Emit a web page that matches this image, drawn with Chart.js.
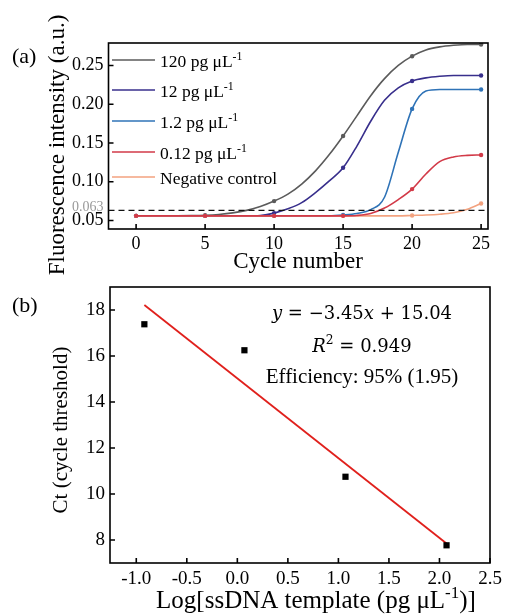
<!DOCTYPE html>
<html>
<head>
<meta charset="utf-8">
<script src="https://cdn.jsdelivr.net/npm/chart.js@4.4.0/dist/chart.umd.min.js"></script>
<style>
  html, body { margin: 0; padding: 0; background: #fff; }
  #wrap { position: relative; width: 505px; height: 615px; }
  canvas { position: absolute; left: 0; }
  #chartA { top: 0; }
  #chartB { top: 280px; }
</style>
</head>
<body>
<div id="wrap">
  <canvas id="chartA" width="505" height="280"></canvas>
  <canvas id="chartB" width="505" height="335"></canvas>
</div>
<script>
// ---- (a) amplification curves ----
var cycles = [0, 1, 2, 3, 4, 5, 6, 7, 8, 9, 10, 11, 12, 13, 14, 15, 16, 17, 18, 19, 20, 21, 22, 23, 24, 25];
var fluor120 = [0.056, 0.056, 0.056, 0.056, 0.0562, 0.0567, 0.0578, 0.0598, 0.063, 0.068, 0.075, 0.084, 0.097,
                0.114, 0.135, 0.159, 0.185, 0.211, 0.233, 0.250, 0.262, 0.270, 0.274, 0.276, 0.277, 0.277];
var fluor12 = [0.056, 0.056, 0.056, 0.056, 0.056, 0.056, 0.056, 0.056, 0.056, 0.0565, 0.0595, 0.065, 0.073,
               0.086, 0.101, 0.118, 0.146, 0.178, 0.205, 0.221, 0.230, 0.234, 0.236, 0.237, 0.237, 0.237];
var fluor1p2 = [0.056, 0.056, 0.056, 0.056, 0.056, 0.056, 0.056, 0.056, 0.056, 0.056, 0.056, 0.056, 0.056,
                0.056, 0.056, 0.057, 0.059, 0.064, 0.080, 0.138, 0.194, 0.217, 0.219, 0.219, 0.219, 0.219];
var fluor0p12 = [0.056, 0.056, 0.056, 0.056, 0.056, 0.056, 0.056, 0.056, 0.056, 0.056, 0.056, 0.056, 0.056,
                 0.056, 0.056, 0.056, 0.0565, 0.059, 0.066, 0.077, 0.0905, 0.110, 0.126, 0.132, 0.134, 0.1345];
var fluorNeg = [0.056, 0.056, 0.056, 0.056, 0.056, 0.056, 0.056, 0.056, 0.056, 0.056, 0.056, 0.056, 0.056,
                0.056, 0.056, 0.056, 0.056, 0.056, 0.056, 0.056, 0.0565, 0.057, 0.058, 0.060, 0.0645, 0.072];
var seriesLabels = ['120 pg μL^{-1}', '12 pg μL^{-1}', '1.2 pg μL^{-1}', '0.12 pg μL^{-1}', 'Negative control'];
var xTicksA = [0, 5, 10, 15, 20, 25];
var yTicksA = [0.05, 0.10, 0.15, 0.20, 0.25];
var threshold = 0.063;

// ---- (b) standard curve ----
var logTemplate = [-0.92, 0.07, 1.07, 2.07];
var ctValues = [17.38, 16.25, 10.75, 7.77];
var fitX = [-0.92, 2.07];
var fitY = [18.22, 7.85];
var xTicksB = [-1.0, -0.5, 0.0, 0.5, 1.0, 1.5, 2.0, 2.5];
var yTicksB = [8, 10, 12, 14, 16, 18];
var noteLines = ['*y* = −3.45*x* + 15.04', '*R*^{2} = 0.949', 'Efficiency: 95% (1.95)'];

var seriesData = [fluor120, fluor12, fluor1p2, fluor0p12, fluorNeg];
var seriesColors = ['#5b5b5b', '#382f8c', '#2f73b7', '#d23a48', '#f3a27f'];
var SERIF = '"Liberation Serif", "Times New Roman", serif';
var MATH = '"DejaVu Serif", serif';

// split 'text ^{sup} *italic*' into parts
function parseRich(s) {
    var parts = [];
    var re = /\^\{([^}]*)\}|\*([^*]*)\*|([^^*]+)/g;
    var m;
    while ((m = re.exec(s))) {
        if (m[1] !== undefined) parts.push({t: m[1], sup: true});
        else if (m[2] !== undefined) parts.push({t: m[2], italic: true});
        else parts.push({t: m[3]});
    }
    return parts;
}

function drawRich(ctx, s, x, y, size, family, align) {
    var parts = parseRich(s);
    var fontOf = function(p) {
        return (p.italic ? 'italic ' : '') + (p.sup ? size * 0.68 : size) + 'px ' + family;
    };
    var w = 0;
    parts.forEach(function(p) { ctx.font = fontOf(p); p.w = ctx.measureText(p.t).width; w += p.w; });
    var cx = align === 'center' ? x - w / 2 : x;
    ctx.textAlign = 'left';
    ctx.textBaseline = 'alphabetic';
    parts.forEach(function(p) {
        ctx.font = fontOf(p);
        ctx.fillText(p.t, cx, p.sup ? y - size * 0.42 : y);
        cx += p.w;
    });
}

// box around plot area + inward ticks
var framePlugin = {
    id: 'frame',
    afterDatasetsDraw: function(chart, args, opts) {
        var ctx = chart.ctx, a = chart.chartArea;
        ctx.save();
        ctx.strokeStyle = '#000';
        ctx.lineWidth = 1.6;
        ctx.strokeRect(a.left, a.top, a.right - a.left, a.bottom - a.top);
        ctx.beginPath();
        opts.xTicks.forEach(function(v) {
            var px = chart.scales.x.getPixelForValue(v);
            ctx.moveTo(px, a.bottom); ctx.lineTo(px, a.bottom - 5);
        });
        opts.yTicks.forEach(function(v) {
            var py = chart.scales.y.getPixelForValue(v);
            ctx.moveTo(a.left, py); ctx.lineTo(a.left + 5, py);
        });
        ctx.stroke();
        ctx.restore();
    }
};

// dashed threshold line with its grey label
var thresholdPlugin = {
    id: 'threshold',
    afterDatasetsDraw: function(chart, args, opts) {
        if (!opts.value) return;
        var ctx = chart.ctx, a = chart.chartArea;
        var py = chart.scales.y.getPixelForValue(opts.value);
        ctx.save();
        ctx.strokeStyle = '#111';
        ctx.lineWidth = 1.4;
        ctx.setLineDash([6, 4]);
        ctx.beginPath();
        ctx.moveTo(a.left, py); ctx.lineTo(a.right, py);
        ctx.stroke();
        ctx.fillStyle = '#9a9a9a';
        ctx.font = '14px ' + SERIF;
        ctx.textAlign = 'right';
        ctx.textBaseline = 'middle';
        ctx.fillText(String(opts.value), a.left - 5, py - 3);
        ctx.restore();
    }
};

// legend inside the plot, drawn from the datasets
var legendPlugin = {
    id: 'inlegend',
    afterDraw: function(chart, args, opts) {
        if (!opts.rows) return;
        var ctx = chart.ctx;
        ctx.save();
        chart.data.datasets.forEach(function(ds, i) {
            var y = opts.rows[i];
            ctx.strokeStyle = ds.borderColor;
            ctx.lineWidth = 1.6;
            ctx.beginPath();
            ctx.moveTo(112, y); ctx.lineTo(155, y);
            ctx.stroke();
            ctx.fillStyle = '#000';
            drawRich(ctx, ds.label, 160, y + 7, 17.5, SERIF, 'left');
        });
        ctx.restore();
    }
};

// panel letters, axis titles, notes
var textPlugin = {
    id: 'texts',
    afterDraw: function(chart, args, opts) {
        var ctx = chart.ctx;
        ctx.save();
        ctx.fillStyle = '#000';
        (opts.items || []).forEach(function(it) {
            if (it.rotate) {
                ctx.save();
                ctx.translate(it.x, it.y);
                ctx.rotate(-Math.PI / 2);
                drawRich(ctx, it.text, 0, 0, it.size, it.family || SERIF, 'center');
                ctx.restore();
            } else {
                drawRich(ctx, it.text, it.x, it.y, it.size, it.family || SERIF, it.align || 'left');
            }
        });
        ctx.restore();
    }
};

function fixedScale(w, h) {
    return function(s) {
        if (w) s.width = w;
        if (h) s.height = h;
        s.paddingTop = s.paddingBottom = s.paddingLeft = s.paddingRight = 0;
    };
}
function setTicks(list) {
    return function(s) { s.ticks = list.map(function(v) { return {value: v}; }); };
}

// ---------- chart (a) ----------
new Chart(document.getElementById('chartA'), {
    type: 'line',
    data: {
        datasets: seriesData.map(function(vals, i) {
            return {
                label: seriesLabels[i],
                data: cycles.map(function(c, j) { return {x: c, y: vals[j]}; }),
                borderColor: seriesColors[i],
                backgroundColor: seriesColors[i],
                borderWidth: 1.6,
                cubicInterpolationMode: 'monotone',
                pointRadius: function(ctx) { return cycles[ctx.dataIndex] % 5 === 0 ? 2.2 : 0; },
                pointBorderWidth: 0,
                order: [4, 3, 2, 0, 1][i]
            };
        })
    },
    options: {
        responsive: false,
        animation: false,
        layout: {padding: {top: 43, right: 17, left: 0, bottom: 0}},
        scales: {
            x: {
                type: 'linear', min: -2, max: 25.5,
                afterFit: fixedScale(null, 51),
                afterBuildTicks: setTicks(xTicksA),
                grid: {display: false, drawTicks: false}, border: {display: false},
                ticks: {color: '#000', font: {family: SERIF, size: 18}, padding: 4, maxRotation: 0}
            },
            y: {
                type: 'linear', min: 0.039, max: 0.279,
                afterFit: fixedScale(108.5, null),
                afterBuildTicks: setTicks(yTicksA),
                grid: {display: false, drawTicks: false}, border: {display: false},
                ticks: {
                    color: '#000', font: {family: SERIF, size: 18}, padding: 5, autoSkip: false,
                    callback: function(v) { return v.toFixed(2); }
                }
            }
        },
        plugins: {
            legend: {display: false},
            tooltip: {enabled: false},
            frame: {xTicks: xTicksA, yTicks: yTicksA},
            threshold: {value: threshold},
            inlegend: {rows: [60, 90, 121, 152, 177]},
            texts: {items: [
                {text: '(a)', x: 12, y: 63, size: 22},
                {text: 'Fluorescence intensity (a.u.)', x: 64, y: 145, size: 23, rotate: true},
                {text: 'Cycle number', x: 298, y: 268, size: 23, align: 'center'}
            ]}
        }
    },
    plugins: [framePlugin, thresholdPlugin, legendPlugin, textPlugin]
});

// ---------- chart (b) ----------
new Chart(document.getElementById('chartB'), {
    type: 'scatter',
    data: {
        datasets: [{
            label: 'Ct',
            data: logTemplate.map(function(x, i) { return {x: x, y: ctValues[i]}; }),
            pointStyle: 'rect',
            pointRadius: 4.4,
            backgroundColor: '#000',
            borderColor: '#000',
            borderWidth: 0,
            order: 0
        }, {
            label: 'Fit',
            type: 'line',
            data: fitX.map(function(x, i) { return {x: x, y: fitY[i]}; }),
            borderColor: '#e0201c',
            borderWidth: 1.8,
            pointRadius: 0,
            order: 1
        }]
    },
    options: {
        responsive: false,
        animation: false,
        layout: {padding: {top: 7, right: 15, left: 0, bottom: 0}},
        scales: {
            x: {
                type: 'linear', min: -1.26, max: 2.5,
                afterFit: fixedScale(null, 52),
                afterBuildTicks: setTicks(xTicksB),
                grid: {display: false, drawTicks: false}, border: {display: false},
                ticks: {
                    color: '#000', font: {family: SERIF, size: 19}, padding: 5, maxRotation: 0, autoSkip: false,
                    callback: function(v) { return v.toFixed(1); }
                }
            },
            y: {
                type: 'linear', min: 7, max: 19,
                afterFit: fixedScale(110, null),
                afterBuildTicks: setTicks(yTicksB),
                grid: {display: false, drawTicks: false}, border: {display: false},
                ticks: {color: '#000', font: {family: SERIF, size: 19}, padding: 5, autoSkip: false}
            }
        },
        plugins: {
            legend: {display: false},
            tooltip: {enabled: false},
            frame: {xTicks: xTicksB, yTicks: yTicksB},
            texts: {items: [
                {text: '(b)', x: 12, y: 32, size: 22},
                {text: 'Ct (cycle threshold)', x: 67, y: 150, size: 21, rotate: true},
                {text: 'Log[ssDNA template (pg μL^{-1})]', x: 316, y: 328, size: 25, align: 'center'},
                {text: noteLines[0], x: 362, y: 39, size: 18, family: MATH, align: 'center'},
                {text: noteLines[1], x: 362, y: 72, size: 18, family: MATH, align: 'center'},
                {text: noteLines[2], x: 362, y: 103, size: 21, align: 'center'}
            ]}
        }
    },
    plugins: [framePlugin, textPlugin]
});
</script>
</body>
</html>
